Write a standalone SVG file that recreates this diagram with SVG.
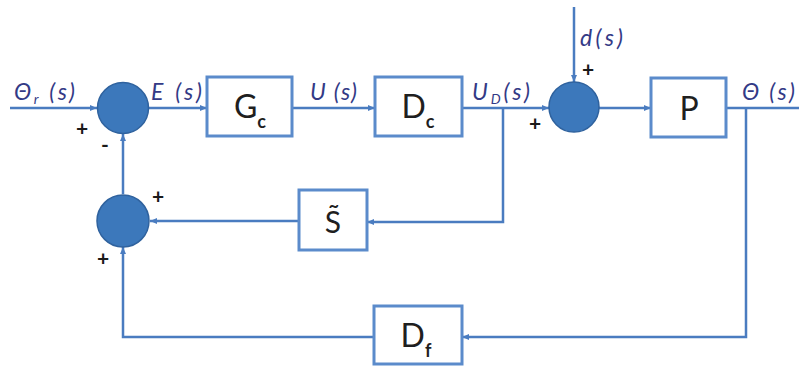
<svg xmlns="http://www.w3.org/2000/svg" width="799" height="366" viewBox="0 0 799 366">
  <defs>
    <marker id="arrow" markerWidth="8" markerHeight="8" refX="7" refY="4" orient="auto" markerUnits="userSpaceOnUse">
      <path d="M0,1 L7,4 L0,7 Z" fill="#4a7cc0"/>
    </marker>
    <style>
      .wire { fill: none; stroke: #4a7cc0; stroke-width: 2.5; }
      .box { fill: #ffffff; stroke: #5b8bcb; stroke-width: 3; }
      .sum { fill: #3c78bb; stroke: #2f629e; stroke-width: 1.5; }
      .sig { font-family: Lato, "Open Sans", sans-serif; font-style: italic; font-size: 23px; fill: #333a86; }
      .sign { font-family: Lato, "Open Sans", sans-serif; font-size: 21px; font-weight: bold; fill: #1a1a1a; }
      .blk { font-family: Lato, "Open Sans", sans-serif; font-size: 32px; fill: #1f1f1f; text-anchor: middle; }
      .sub { font-size: 18px; font-weight: bold; }
    </style>
  </defs>
  <rect width="799" height="366" fill="#ffffff"/>

  <!-- connectors -->
  <g id="connectors">
    <line class="wire" x1="10" y1="108" x2="97" y2="108" marker-end="url(#arrow)"/>
    <line class="wire" x1="149" y1="108" x2="207" y2="108" marker-end="url(#arrow)"/>
    <line class="wire" x1="292" y1="108" x2="375" y2="108" marker-end="url(#arrow)"/>
    <line class="wire" x1="462" y1="108" x2="549" y2="108" marker-end="url(#arrow)"/>
    <line class="wire" x1="599" y1="108" x2="651" y2="108" marker-end="url(#arrow)"/>
    <line class="wire" x1="574" y1="7" x2="574" y2="82" marker-end="url(#arrow)"/>
    <line class="wire" x1="726" y1="108" x2="799" y2="108"/>
    <polyline class="wire" points="503,108 503,222 367,222" marker-end="url(#arrow)"/>
    <line class="wire" x1="299" y1="221" x2="150" y2="221" marker-end="url(#arrow)"/>
    <line class="wire" x1="123" y1="194" x2="123" y2="134" marker-end="url(#arrow)"/>
    <polyline class="wire" points="746,108 746,337 462,337" marker-end="url(#arrow)"/>
    <polyline class="wire" points="374,337 123,337 123,247" marker-end="url(#arrow)"/>
  </g>

  <!-- summing junctions -->
  <g id="sum1"><circle class="sum" cx="123" cy="108" r="25.5"/></g>
  <g id="sum2"><circle class="sum" cx="123" cy="221" r="26"/></g>
  <g id="sum3"><circle class="sum" cx="574" cy="107" r="25"/></g>

  <!-- blocks -->
  <g id="Gc">
    <rect class="box" x="207" y="77" width="85" height="59"/>
    <text class="blk" x="250" y="118">G<tspan class="sub" dy="10">c</tspan></text>
  </g>
  <g id="Dc">
    <rect class="box" x="375" y="77" width="87" height="59"/>
    <text class="blk" x="418" y="118">D<tspan class="sub" dy="10">c</tspan></text>
  </g>
  <g id="P">
    <rect class="box" x="651" y="78" width="75" height="59"/>
    <text class="blk" x="689" y="120">P</text>
  </g>
  <g id="S">
    <rect class="box" x="299" y="190" width="68" height="60"/>
    <text class="blk" x="333" y="233" style="font-size:30px">S̃</text>
  </g>
  <g id="Df">
    <rect class="box" x="374" y="306" width="88" height="58"/>
    <text class="blk" x="416" y="347">D<tspan class="sub" dy="10">f</tspan></text>
  </g>

  <!-- signal labels -->
  <g id="labels">
    <text class="sig" x="14" y="100" textLength="61" lengthAdjust="spacing">Θ<tspan font-size="14" dy="4">r</tspan><tspan dy="-4"> (s)</tspan></text>
    <text class="sig" x="151" y="100" textLength="51" lengthAdjust="spacing">E (s)</text>
    <text class="sig" x="310" y="100" textLength="47" lengthAdjust="spacing">U (s)</text>
    <text class="sig" x="472" y="100" textLength="58" lengthAdjust="spacing">U<tspan font-size="14" dy="4">D</tspan><tspan dy="-4">(s)</tspan></text>
    <text class="sig" x="580" y="46" textLength="43" lengthAdjust="spacing">d(s)</text>
    <text class="sig" x="742" y="100" textLength="53" lengthAdjust="spacing">Θ (s)</text>
  </g>

  <!-- signs -->
  <g id="signs">
    <text class="sign" x="76" y="136">+</text>
    <text class="sign" x="101" y="152">-</text>
    <text class="sign" x="582" y="77">+</text>
    <text class="sign" x="529" y="131">+</text>
    <text class="sign" x="152" y="204">+</text>
    <text class="sign" x="97" y="266">+</text>
  </g>
</svg>
